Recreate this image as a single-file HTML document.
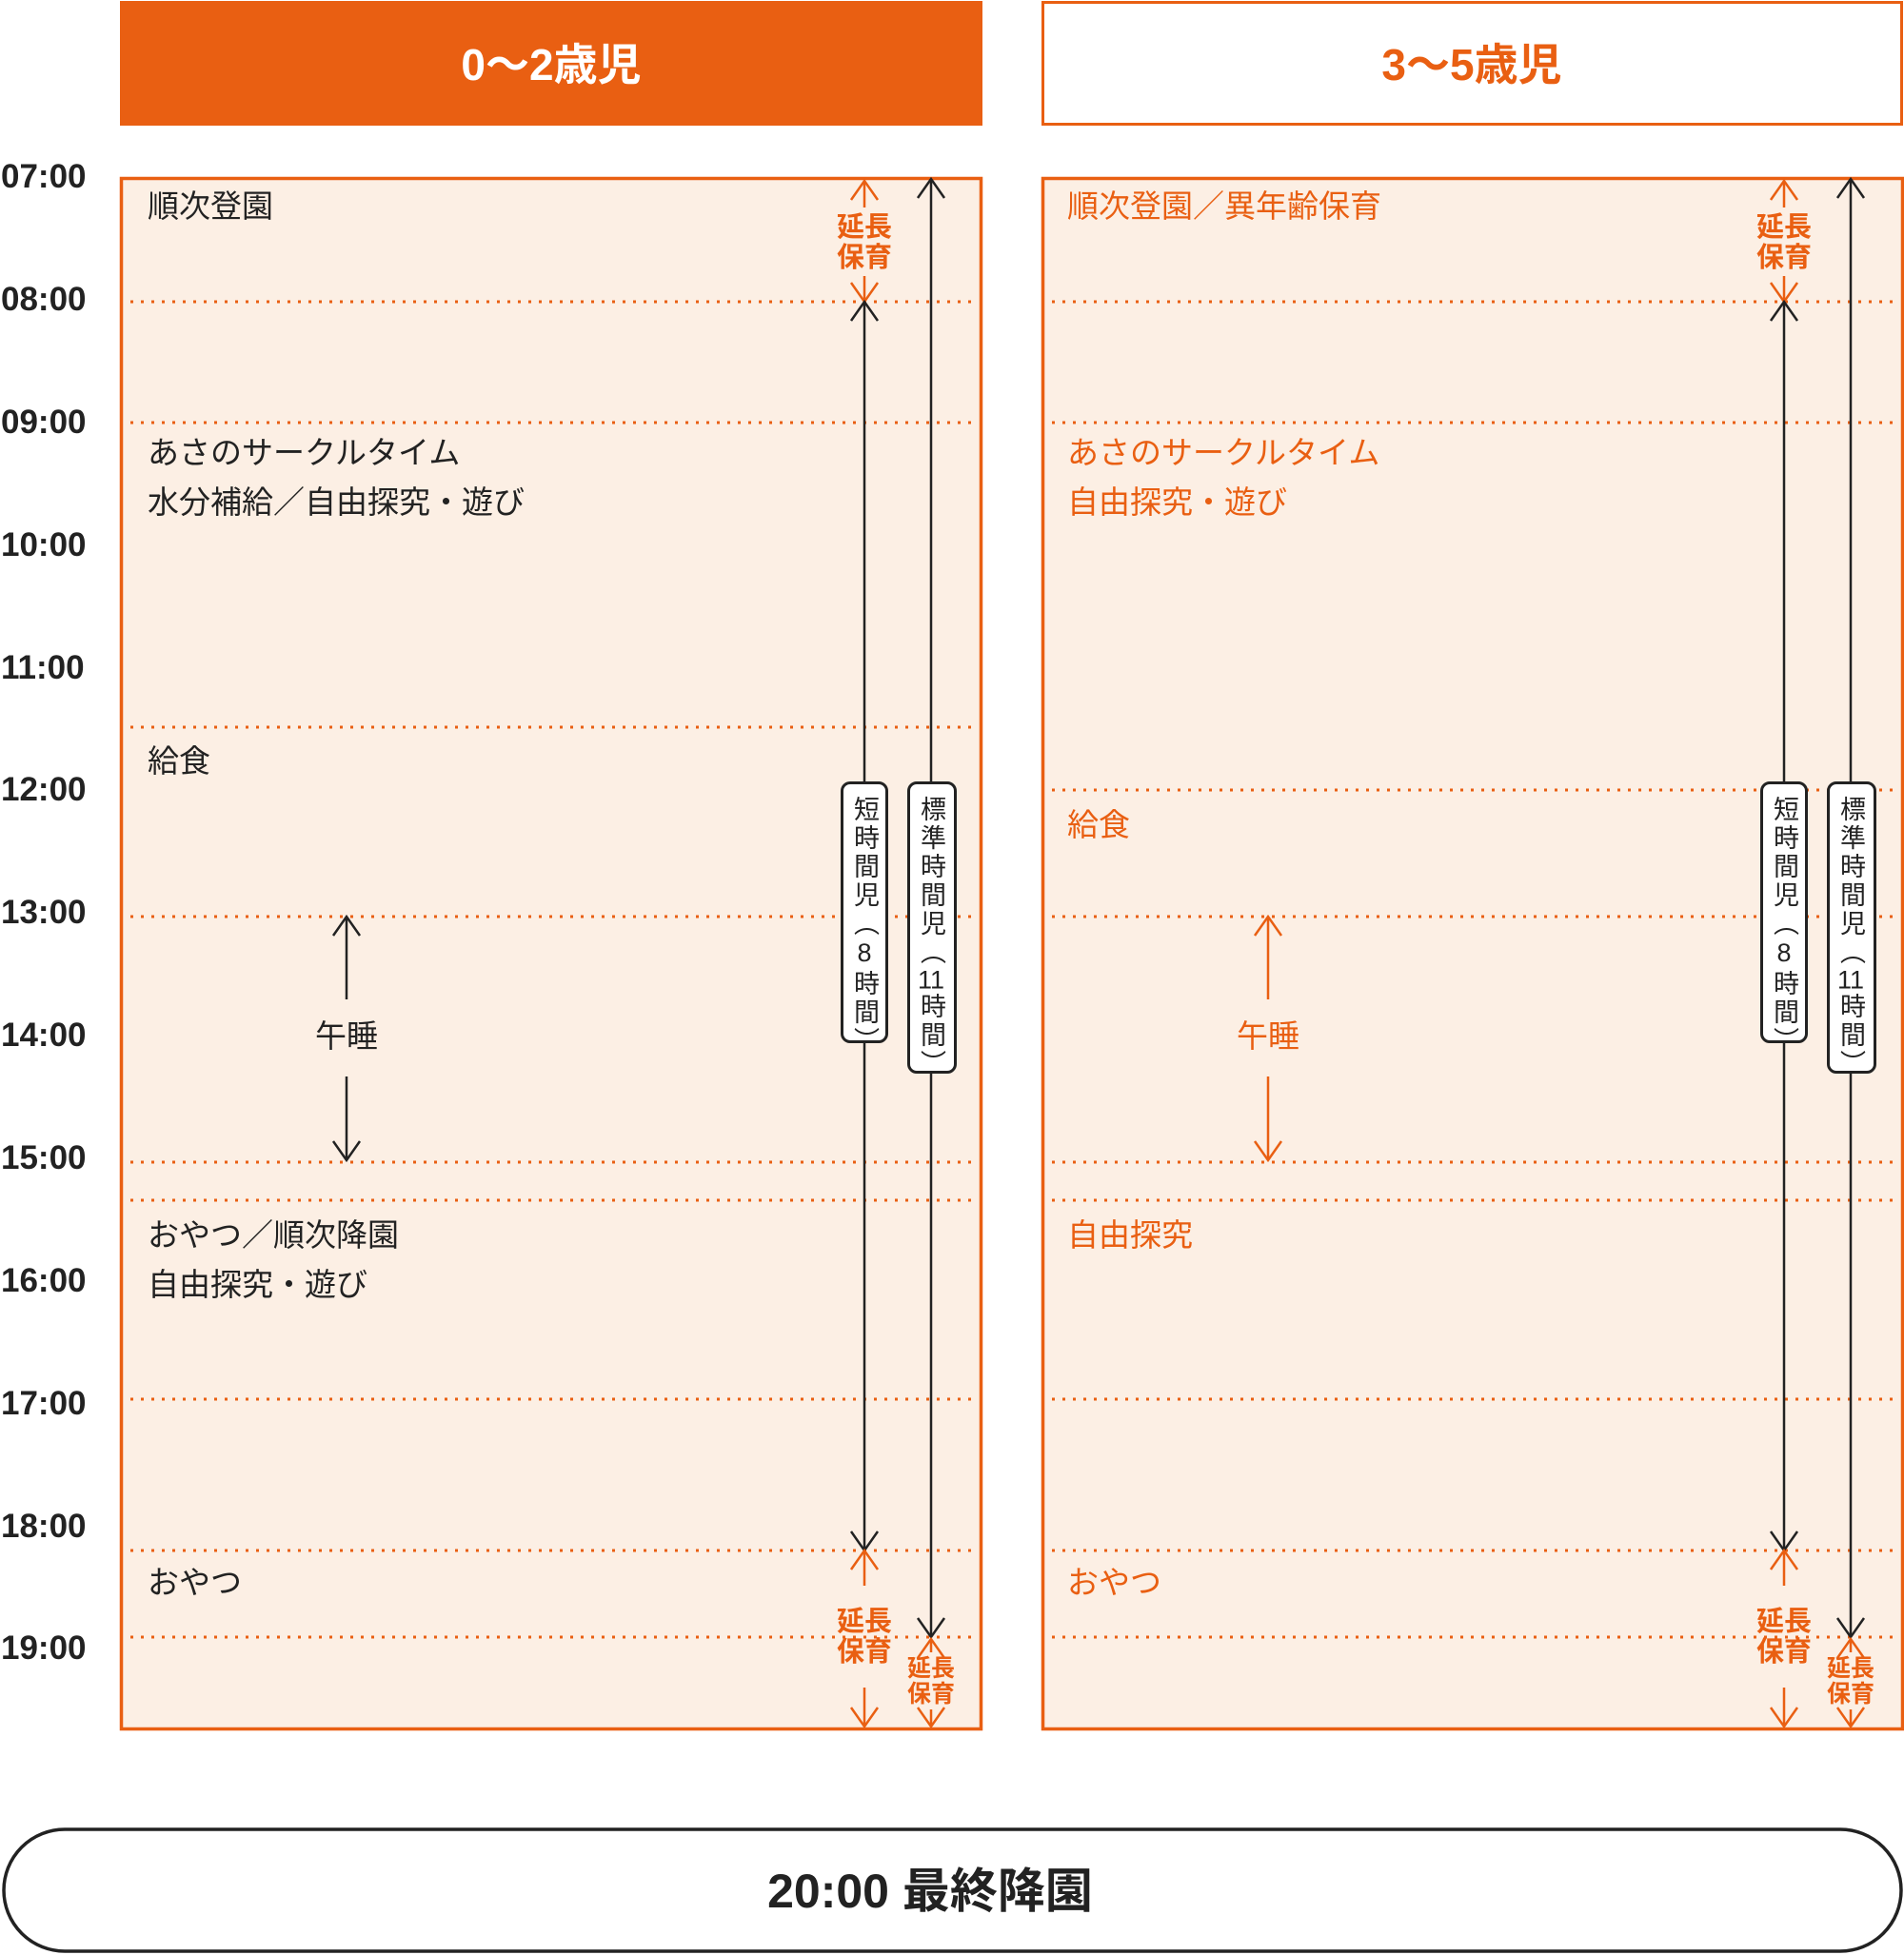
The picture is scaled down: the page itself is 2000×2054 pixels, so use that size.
<!DOCTYPE html>
<html><head><meta charset="utf-8"><style>
html,body{margin:0;padding:0;background:#fff;}
#c{position:relative;width:2000px;height:2054px;overflow:hidden;font-family:"Liberation Sans","Noto Sans CJK JP",sans-serif;}
svg{position:absolute;left:0;top:0;}
.v{position:absolute;box-sizing:border-box;border:3px solid #222;border-radius:10px;background:#fff;overflow:hidden;}
.v div{writing-mode:vertical-rl;text-orientation:upright;font-size:27px;line-height:44px;letter-spacing:3px;color:#222;white-space:nowrap;position:absolute;left:0;top:12px;width:44px;}
.tcy{text-combine-upright:all;}
</style></head><body><div id="c">
<svg width="2000" height="2054" viewBox="0 0 2000 2054" font-family="Liberation Sans, Noto Sans CJK JP, sans-serif">
<defs>
<g id="upB"><path d="M-14 20 L0 0 L14 20" fill="none" stroke="#222" stroke-width="2.5"/></g>
<g id="dnB"><path d="M-14 -20 L0 0 L14 -20" fill="none" stroke="#222" stroke-width="2.5"/></g>
<g id="upO"><path d="M-14 20 L0 0 L14 20" fill="none" stroke="#e95f12" stroke-width="2.5"/></g>
<g id="dnO"><path d="M-14 -20 L0 0 L14 -20" fill="none" stroke="#e95f12" stroke-width="2.5"/></g>
</defs>
<rect x="126" y="1" width="906" height="131" fill="#e95f12"/>
<text x="579" y="84" font-size="46" font-weight="bold" fill="#fff" text-anchor="middle">0～2歳児</text>
<rect x="1095.5" y="2.5" width="902" height="128" fill="#fff" stroke="#e95f12" stroke-width="3"/>
<text x="1546" y="84" font-size="46" font-weight="bold" fill="#e95f12" text-anchor="middle">3～5歳児</text>
<rect x="127.5" y="187.5" width="903" height="1629" fill="#fcefe4" stroke="#e95f12" stroke-width="3.5"/>
<rect x="1095.5" y="187.5" width="903" height="1629" fill="#fcefe4" stroke="#e95f12" stroke-width="3.5"/>
<g font-size="35" font-weight="bold" fill="#222">
<text x="1" y="197">07:00</text><text x="1" y="326">08:00</text><text x="1" y="455">09:00</text>
<text x="1" y="584">10:00</text><text x="1" y="713">11:00</text><text x="1" y="841">12:00</text>
<text x="1" y="970">13:00</text><text x="1" y="1099">14:00</text><text x="1" y="1228">15:00</text>
<text x="1" y="1357">16:00</text><text x="1" y="1486">17:00</text><text x="1" y="1615">18:00</text>
<text x="1" y="1743">19:00</text>
</g>
<g stroke="#e95f12" stroke-width="3" stroke-dasharray="3 8">
<path d="M137 317H1024M137 444H1024M137 764H1024M137 963H1024M137 1221H1024M137 1261H1024M137 1470H1024M137 1629H1024M137 1720H1024"/>
<path d="M1105 317H1992M1105 444H1992M1105 830H1992M1105 963H1992M1105 1221H1992M1105 1261H1992M1105 1470H1992M1105 1629H1992M1105 1720H1992"/>
</g>
<g font-size="33" fill="#222">
<text x="155" y="228">順次登園</text>
<text x="155" y="487">あさのサークルタイム</text>
<text x="155" y="539">水分補給／自由探究・遊び</text>
<text x="155" y="811">給食</text>
<text x="364" y="1100" text-anchor="middle">午睡</text>
<text x="155" y="1309">おやつ／順次降園</text>
<text x="155" y="1361">自由探究・遊び</text>
<text x="155" y="1674">おやつ</text>
</g>
<g font-size="33" fill="#e95f12">
<text x="1121" y="228">順次登園／異年齢保育</text>
<text x="1121" y="487">あさのサークルタイム</text>
<text x="1121" y="539">自由探究・遊び</text>
<text x="1121" y="878">給食</text>
<text x="1332" y="1100" text-anchor="middle">午睡</text>
<text x="1121" y="1309">自由探究</text>
<text x="1121" y="1674">おやつ</text>
</g>
<g stroke="#222" stroke-width="2.5"><path d="M364 963V1050M364 1131V1219"/></g>
<use href="#upB" x="364" y="963"/><use href="#dnB" x="364" y="1219"/>
<g stroke="#e95f12" stroke-width="2.5"><path d="M1332 963V1050M1332 1131V1219"/></g>
<use href="#upO" x="1332" y="963"/><use href="#dnO" x="1332" y="1219"/>
<g id="colL">
<path d="M908 190V218M908 290V317" stroke="#e95f12" stroke-width="2.5"/>
<use href="#upO" x="908" y="190"/><use href="#dnO" x="908" y="317"/>
<g font-size="29" font-weight="bold" fill="#e95f12" text-anchor="middle">
<text x="908" y="248">延長</text><text x="908" y="280">保育</text>
</g>
<path d="M908 317V1629" stroke="#222" stroke-width="2.5"/>
<use href="#upB" x="908" y="317"/><use href="#dnB" x="908" y="1629"/>
<path d="M908 1629V1666M908 1773V1814" stroke="#e95f12" stroke-width="2.5"/>
<use href="#upO" x="908" y="1629"/><use href="#dnO" x="908" y="1814"/>
<g font-size="29" font-weight="bold" fill="#e95f12" text-anchor="middle">
<text x="908" y="1713">延長</text><text x="908" y="1745">保育</text>
</g>
<path d="M978 188V1720" stroke="#222" stroke-width="2.5"/>
<use href="#upB" x="978" y="188"/><use href="#dnB" x="978" y="1720"/>
<use href="#upO" x="978" y="1722"/>
<path d="M978 1722V1736M978 1796V1814" stroke="#e95f12" stroke-width="2.5"/>
<use href="#dnO" x="978" y="1814"/>
<g font-size="25" font-weight="bold" fill="#e95f12" text-anchor="middle">
<text x="978" y="1761">延長</text><text x="978" y="1788">保育</text>
</g>
</g>
<use href="#colL" x="966" y="0"/>
<rect x="4" y="1922" width="1993" height="128" rx="64" fill="#fff" stroke="#222" stroke-width="3.5"/>
<text x="977" y="2004" font-size="50" font-weight="bold" fill="#222" text-anchor="middle">20:00 最終降園</text>
</svg>
<div class="v" style="left:883px;top:821px;width:50px;height:275px;"><div>短時間児（8時間）</div></div>
<div class="v" style="left:953px;top:821px;width:52px;height:307px;"><div>標準時間児（<span class="tcy">11</span>時間）</div></div>
<div class="v" style="left:1849px;top:821px;width:50px;height:275px;"><div>短時間児（8時間）</div></div>
<div class="v" style="left:1919px;top:821px;width:52px;height:307px;"><div>標準時間児（<span class="tcy">11</span>時間）</div></div>
</div></body></html>
